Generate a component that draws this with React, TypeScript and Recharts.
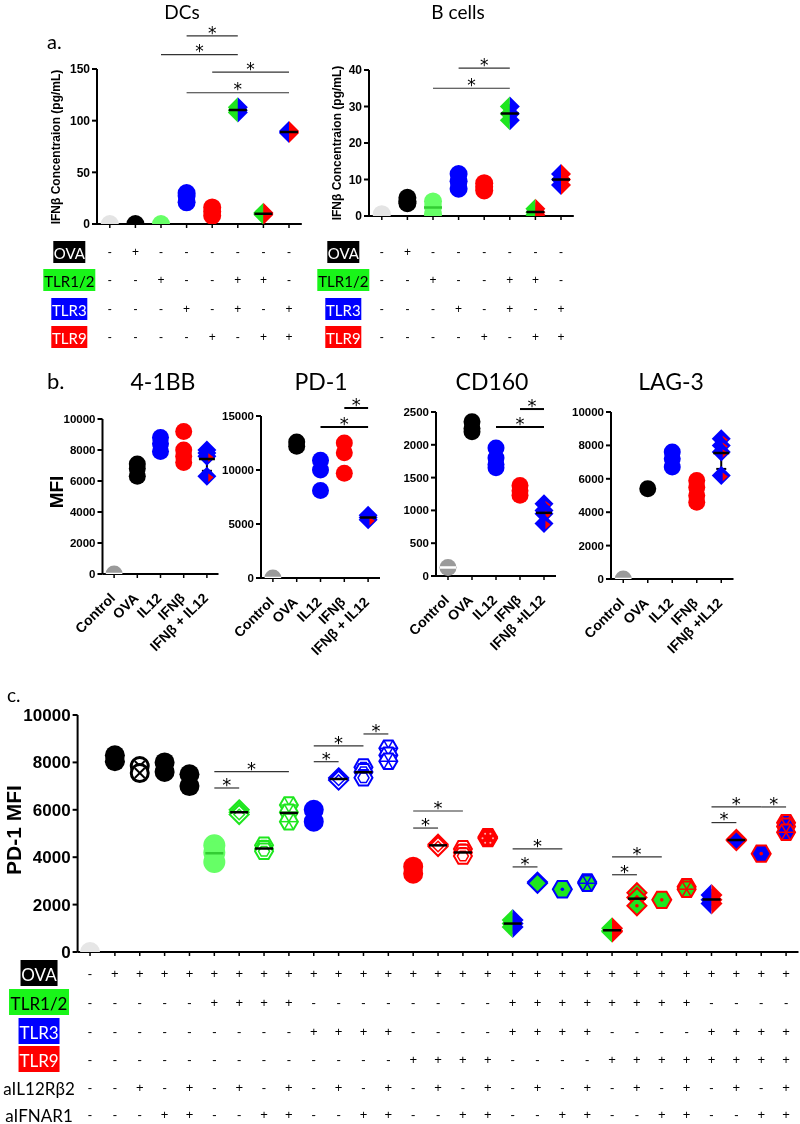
import React from "react";
import { ScatterChart, Scatter, XAxis, YAxis, ReferenceLine, ReferenceDot, ErrorBar } from "recharts";

const ARIAL = "'Liberation Sans', Arial, sans-serif";
const CALIBRI = "Lato, 'Open Sans', sans-serif";
const STAR = "'DejaVu Sans', sans-serif";

const BLACK = "#000000";
const WHITE = "#ffffff";
const PALE = "#e4e4e4";
const MID_GRAY = "#9a9a9a";
const LIGHT_GREEN = "#66ff66";
const GREEN = "#1ee61e";
const BOX_GREEN = "#19f519";
const BLUE = "#0000ff";
const RED = "#ff0000";

// ---------- panel a ----------
const dcValues = [[0], [0], [0], [30, 27, 21], [16, 12, 8], [113, 110, 108], [11, 10, 9], [90, 89, 88]];
const dcSig = [[4, 6, 182], [3, 6, 164], [5, 8, 147], [4, 8, 127]];
const dcTicks = [0, 50, 100, 150];

const bcValues = [[0.5], [5, 4, 3.5], [4, 2.5, 0.5], [11.5, 9.5, 7.5], [9, 8, 7], [30, 28, 26.2], [2, 1, 0.3], [11.5, 10, 8.5]];
const bcSig = [[4, 6, 40.5], [3, 6, 35]];
const bcTicks = [0, 10, 20, 30, 40];

const aOva = ["-", "+", "-", "-", "-", "-", "-", "-"];
const aTlr12 = ["-", "-", "+", "-", "-", "+", "+", "-"];
const aTlr3 = ["-", "-", "-", "+", "-", "+", "-", "+"];
const aTlr9 = ["-", "-", "-", "-", "+", "-", "+", "+"];

// ---------- panel b ----------
const bCats = ["Control", "OVA", "IL12", "IFNβ", "IFNβ + IL12"];
const bCats2 = ["Control", "OVA", "IL12", "IFNβ", "IFNβ +IL12"];
const bbValues = [[0], [7100, 6800, 6300], [8800, 8400, 7900], [9200, 8000, 7600, 7200], [8000, 7800, 7600, 6300]];
const pdValues = [[0], [12600, 12200], [10900, 10000, 8100], [12500, 11600, 9700], [5800, 5600, 5400]];
const pdSig = [[3, 5, 13980], [4, 5, 15740]];
const cdValues = [[130], [2350, 2250, 2200], [1950, 1800, 1700, 1650], [1380, 1300, 1230], [1100, 1000, 950, 800]];
const cdSig = [[3, 5, 2270], [4, 5, 2545]];
const lagValues = [[0], [5400], [7600, 7200, 6700], [5900, 5500, 5000, 4600], [8400, 8000, 7600, 6200]];
const tenK = [0, 2000, 4000, 6000, 8000, 10000];
const pdTicks = [0, 5000, 10000, 15000];
const cdTicks = [0, 500, 1000, 1500, 2000, 2500];

// ---------- panel c ----------
const cValues = [
  [0], [8300, 8050], [7850, 7550], [8000, 7600], [7500, 7000],
  [4500, 4200, 3800], [6000, 5900, 5800], [4500, 4350, 4250], [6200, 5900, 5500],
  [6000, 5500], [7350, 7300, 7250], [7800, 7600, 7350], [8600, 8300, 8050],
  [3600, 3300], [4550, 4500, 4450], [4350, 4200, 4050], [4850, 4800],
  [1350, 1200, 1050], [2950, 2900], [2650], [2950, 2900],
  [1000, 900, 850], [2500, 2300, 1950], [2200], [2750, 2650],
  [2400, 2200, 2050], [4750, 4700], [4150], [5450, 5300, 5050],
];
const cSig = [
  [6, 7, 6920], [6, 9, 7610], [10, 11, 8030], [10, 12, 8700], [12, 13, 9200],
  [14, 15, 5230], [14, 16, 5950], [18, 19, 3590], [18, 20, 4350],
  [22, 23, 3260], [22, 24, 4010], [26, 27, 5460], [26, 28, 6120], [28, 29, 6120],
];
const cOva = "-++++++++++++++++++++++++++++".split("");
const cTlr12 = "-----++++--------++++++++----".split("");
const cTlr3 = "---------++++----++++----++++".split("");
const cTlr9 = "-------------++++----++++++++".split("");
const cIl12 = "--+-+-+-+-+-+-+-+-+-+-+-+-+-+".split("");
const cIfnar = "---++--++--++--++--++--++--++".split("");

// ---------- markers ----------
type Mk = { s: "c" | "d" | "h"; fill: string; stroke?: string; half?: string; inner?: string; ic?: string; r: number; sw?: number };

const circ = (fill: string, r: number): Mk => ({ s: "c", fill, r });
const split = (a: string, b: string, r: number): Mk => ({ s: "d", fill: a, half: b, r });

function diamondPts(cx: number, cy: number, h: number) {
  return `${cx},${cy - h} ${cx + h},${cy} ${cx},${cy + h} ${cx - h},${cy}`;
}
function hexVerts(cx: number, cy: number, r: number) {
  const out: number[][] = [];
  for (let k = 0; k < 6; k++) {
    const t = (Math.PI / 3) * k;
    out.push([cx + r * Math.cos(t), cy + r * Math.sin(t)]);
  }
  return out;
}
const hexPts = (cx: number, cy: number, r: number) => hexVerts(cx, cy, r).map((p) => p.join(",")).join(" ");

function Marker({ cx, cy, m }: { cx: number; cy: number; m: Mk }) {
  if (cx == null || cy == null) return null;
  const r = m.r;
  const sw = m.stroke ? m.sw ?? 2 : 0;
  const ri = r - sw / 2;
  const kids: React.ReactElement[] = [];
  if (m.s === "c") {
    kids.push(<circle key="b" cx={cx} cy={cy} r={ri} fill={m.fill} stroke={m.stroke} strokeWidth={sw} />);
  } else if (m.s === "d") {
    if (m.half) {
      kids.push(<polygon key="l" points={`${cx},${cy - r} ${cx},${cy + r} ${cx - r},${cy}`} fill={m.fill} />);
      kids.push(<polygon key="r" points={`${cx},${cy - r} ${cx + r},${cy} ${cx},${cy + r}`} fill={m.half} />);
    } else {
      kids.push(<polygon key="b" points={diamondPts(cx, cy, ri)} fill={m.fill} stroke={m.stroke} strokeWidth={sw} />);
    }
  } else {
    kids.push(<polygon key="b" points={hexPts(cx, cy, ri)} fill={m.fill} stroke={m.stroke} strokeWidth={sw} />);
  }
  const ic = m.ic || BLACK;
  if (m.inner === "x") {
    const d = r * 0.5;
    kids.push(<line key="x1" x1={cx - d} y1={cy - d} x2={cx + d} y2={cy + d} stroke={ic} strokeWidth={2} />);
    kids.push(<line key="x2" x1={cx - d} y1={cy + d} x2={cx + d} y2={cy - d} stroke={ic} strokeWidth={2} />);
  } else if (m.inner === "ring") {
    if (m.s === "d") kids.push(<polygon key="i" points={diamondPts(cx, cy, r * 0.5)} fill="none" stroke={ic} strokeWidth={1.5} />);
    else kids.push(<polygon key="i" points={hexPts(cx, cy, r * 0.55)} fill="none" stroke={ic} strokeWidth={1.5} />);
  } else if (m.inner === "spoke") {
    const v = hexVerts(cx, cy, ri);
    for (let k = 0; k < 3; k++) {
      kids.push(<line key={"sp" + k} x1={v[k][0]} y1={v[k][1]} x2={v[k + 3][0]} y2={v[k + 3][1]} stroke={ic} strokeWidth={1.5} />);
    }
  } else if (m.inner === "dot") {
    kids.push(<circle key="d" cx={cx} cy={cy} r={1.8} fill={ic} />);
  } else if (m.inner === "dots") {
    hexVerts(cx, cy, r * 0.5).forEach((p, k) => kids.push(<circle key={"dt" + k} cx={p[0]} cy={p[1]} r={1} fill={ic} />));
  } else if (m.inner === "tri") {
    kids.push(
      <polygon key="t" points={`${cx + 0.15 * r},${cy - 0.3 * r} ${cx + 0.7 * r},${cy + 0.1 * r} ${cx + 0.15 * r},${cy + 0.6 * r}`} fill={ic} />
    );
  }
  return <g>{kids}</g>;
}

const dcMarks: Mk[] = [circ(PALE, 9), circ(BLACK, 9), circ(LIGHT_GREEN, 9), circ(BLUE, 9), circ(RED, 9), split(GREEN, BLUE, 10), split(GREEN, RED, 10), split(BLUE, RED, 10)];
const dcMeans = [null, null, null, null, null, BLACK, BLACK, BLACK];
const dcErrs = [false, false, false, false, false, true, true, false];
const bcMeans = [null, null, "#33cc33", null, null, BLACK, BLACK, BLACK];
const bcErrs = [false, false, false, false, false, true, true, true];

const bMarks: Mk[] = [circ(MID_GRAY, 8.5), circ(BLACK, 8.5), circ(BLUE, 8.5), circ(RED, 8.5), { s: "d", fill: BLUE, inner: "tri", ic: RED, r: 9.5 }];
const bMeans = [WHITE, null, null, null, BLACK];
const bErrs = [false, false, false, false, true];

const ring = (s: "d" | "h", col: string): Mk => ({ s, fill: WHITE, stroke: col, inner: "ring", ic: col, r: s === "d" ? 10.5 : 10 });
const spokes = (fill: string, col: string): Mk => ({ s: "h", fill, stroke: col, inner: "spoke", ic: col, r: 10 });
const cMarks: Mk[] = [
  circ("#e6e6e6", 10), circ(BLACK, 10), { s: "c", fill: WHITE, stroke: BLACK, sw: 3, inner: "x", ic: BLACK, r: 10 }, circ(BLACK, 10), circ(BLACK, 10),
  circ(LIGHT_GREEN, 11), ring("d", GREEN), ring("h", GREEN), spokes(WHITE, GREEN),
  circ(BLUE, 10), ring("d", BLUE), ring("h", BLUE), spokes(WHITE, BLUE),
  circ(RED, 10), ring("d", RED), ring("h", RED), { s: "h", fill: RED, inner: "dots", ic: "#ffb0b0", r: 10.5 },
  split(GREEN, BLUE, 11), { s: "d", fill: GREEN, stroke: BLUE, r: 10.5 }, { s: "h", fill: GREEN, stroke: BLUE, inner: "dot", ic: BLUE, r: 10.5 }, spokes(GREEN, BLUE),
  split(GREEN, RED, 11), { s: "d", fill: GREEN, stroke: RED, inner: "dot", ic: RED, r: 10.5 }, { s: "h", fill: GREEN, stroke: RED, inner: "dot", ic: RED, r: 10.5 }, spokes(GREEN, RED),
  split(BLUE, RED, 11), { s: "d", fill: BLUE, stroke: RED, r: 10.5 }, { s: "h", fill: BLUE, stroke: RED, inner: "dot", ic: RED, r: 10.5 }, spokes(BLUE, RED),
];
const cMeans = [null, null, null, null, null, "#33cc33", BLACK, BLACK, BLACK, null, BLACK, BLACK, null, null, BLACK, BLACK, null, BLACK, null, null, null, BLACK, BLACK, null, null, BLACK, BLACK, null, null];
const cErrs = [false, false, false, false, false, false, true, true, true, false, true, true, false, false, true, true, false, false, false, false, false, true, true, false, false, false, true, false, false];

// ---------- helpers ----------
const mean = (v: number[]) => v.reduce((a, b) => a + b, 0) / v.length;
const sd = (v: number[]) => {
  if (v.length < 2) return 0;
  const m = mean(v);
  return Math.sqrt(v.reduce((a, b) => a + (b - m) * (b - m), 0) / (v.length - 1));
};

type RowLbl = { text: string; bg?: string; color: string; w?: number };
const aLabels: RowLbl[] = [
  { text: "OVA", bg: BLACK, color: WHITE, w: 32 },
  { text: "TLR1/2", bg: BOX_GREEN, color: BLACK, w: 52 },
  { text: "TLR3", bg: BLUE, color: WHITE, w: 36 },
  { text: "TLR9", bg: RED, color: WHITE, w: 36 },
];
const cLabels: RowLbl[] = [
  { text: "OVA", bg: BLACK, color: WHITE, w: 37 },
  { text: "TLR1/2", bg: BOX_GREEN, color: BLACK, w: 60 },
  { text: "TLR3", bg: BLUE, color: WHITE, w: 41 },
  { text: "TLR9", bg: RED, color: WHITE, w: 41 },
  { text: "aIL12Rβ2", color: BLACK },
  { text: "aIFNAR1", color: BLACK },
];

function tableTick(rows: string[][], labels: RowLbl[], offs: number[], labelDx: number, fs: number, lfs: number, boxH: number) {
  return (p: any) => {
    const i = Math.round(p.payload.value) - 1;
    const base = p.y - 4;
    return (
      <g>
        {rows.map((r, k) => (
          <text key={k} x={p.x} y={base + offs[k]} textAnchor="middle" dominantBaseline="central" fontSize={fs} fontFamily={ARIAL} fill={BLACK}>
            {r[i]}
          </text>
        ))}
        {i === 0 &&
          labels.map((l, k) => (
            <g key={"l" + k}>
              {l.bg && <rect x={p.x - labelDx - (l.w || 0) / 2} y={base + offs[k] - boxH / 2} width={l.w} height={boxH} fill={l.bg} />}
              <text x={p.x - labelDx} y={base + offs[k] + 1} textAnchor="middle" dominantBaseline="central" fontSize={lfs} fontFamily={CALIBRI} fill={l.color}>
                {l.text}
              </text>
            </g>
          ))}
      </g>
    );
  };
}

const rotTick = (labels: string[]) => (p: any) => (
  <text transform={`translate(${p.x + 2},${p.y + 21}) rotate(-45)`} textAnchor="end" fontSize={14} fontWeight={700} fontFamily={ARIAL} fill={BLACK}>
    {labels[Math.round(p.payload.value) - 1]}
  </text>
);

type PanelCfg = {
  box: number[];
  plot: number[];
  yw: number;
  xh: number;
  yMax: number;
  yTicks: number[];
  yFs: number;
  values: number[][];
  marks: Mk[];
  means: (string | null)[];
  errs: boolean[];
  sigs: number[][];
  sigW: number;
  sigColor: string;
  starFs: number;
  meanW: number;
  tick: (p: any) => React.ReactElement;
};

function Panel({ c }: { c: PanelCfg }) {
  const [L, T, W, H] = c.box;
  const [x0, y0, x1, y1] = c.plot;
  const n = c.values.length;
  const margin = { top: y0 - T, left: x0 - L - c.yw, right: L + W - x1, bottom: T + H - y1 - c.xh };
  const ticks = c.values.map((_, i) => i + 1);
  return (
    <div style={{ position: "absolute", left: L, top: T }}>
      <ScatterChart width={W} height={H} margin={margin} style={{ overflow: "visible" }}>
        <XAxis
          type="number"
          dataKey="x"
          domain={[0.5, n + 0.5]}
          ticks={ticks}
          interval={0}
          allowDataOverflow
          height={c.xh}
          tickSize={4}
          tickMargin={0}
          axisLine={{ stroke: BLACK, strokeWidth: 2 }}
          tickLine={{ stroke: BLACK, strokeWidth: 1.5 }}
          tick={c.tick}
        />
        <YAxis
          type="number"
          dataKey="y"
          domain={[0, c.yMax]}
          ticks={c.yTicks}
          interval={0}
          allowDataOverflow
          width={c.yw}
          tickSize={5}
          tickMargin={2}
          axisLine={{ stroke: BLACK, strokeWidth: 2 }}
          tickLine={{ stroke: BLACK, strokeWidth: 2 }}
          tick={{ fill: BLACK, fontSize: c.yFs, fontWeight: 700, fontFamily: ARIAL }}
        />
        {c.values.map((vals, i) => (
          <Scatter
            key={"s" + i}
            data={vals.map((v) => ({ x: i + 1, y: v }))}
            isAnimationActive={false}
            shape={(p: any) => <Marker cx={p.cx} cy={p.cy} m={c.marks[i]} />}
          />
        ))}
        {c.values.map((vals, i) =>
          c.means[i] ? (
            <Scatter
              key={"m" + i}
              data={[{ x: i + 1, y: mean(vals), e: sd(vals) }]}
              isAnimationActive={false}
              shape={(p: any) => (
                <line x1={p.cx - c.meanW} x2={p.cx + c.meanW} y1={p.cy} y2={p.cy} stroke={c.means[i] as string} strokeWidth={2.5} />
              )}
            >
              {c.errs[i] && <ErrorBar dataKey="e" direction="y" width={5} stroke={BLACK} strokeWidth={2} />}
            </Scatter>
          ) : null
        )}
        {c.sigs.map(([a, b, y], k) => (
          <ReferenceLine key={"g" + k} segment={[{ x: a, y }, { x: b, y }]} stroke={c.sigColor} strokeWidth={c.sigW} ifOverflow="visible" />
        ))}
        {c.sigs.map(([a, b, y], k) => (
          <ReferenceDot
            key={"st" + k}
            x={(a + b) / 2}
            y={y}
            r={0}
            ifOverflow="visible"
            shape={(p: any) => (
              <text x={p.cx} y={p.cy + c.starFs * 0.16} textAnchor="middle" fontSize={c.starFs} fontFamily={STAR} fill={BLACK}>
                *
              </text>
            )}
          />
        ))}
      </ScatterChart>
    </div>
  );
}

const panels: PanelCfg[] = [
  {
    box: [0, 0, 320, 360], plot: [97, 69, 301.8, 224], yw: 40, xh: 130, yMax: 150, yTicks: dcTicks, yFs: 12,
    values: dcValues, marks: dcMarks, means: dcMeans, errs: dcErrs, sigs: dcSig, sigW: 1.2, sigColor: "#333", starFs: 17, meanW: 9,
    tick: tableTick([aOva, aTlr12, aTlr3, aTlr9], aLabels, [28, 56, 85, 113], 40.5, 12, 15, 22),
  },
  {
    box: [290, 0, 310, 360], plot: [369, 70, 573.8, 216], yw: 40, xh: 130, yMax: 40, yTicks: bcTicks, yFs: 12,
    values: bcValues, marks: dcMarks, means: bcMeans, errs: bcErrs, sigs: bcSig, sigW: 1.2, sigColor: "#333", starFs: 17, meanW: 9,
    tick: tableTick([aOva, aTlr12, aTlr3, aTlr9], aLabels, [36, 64, 93, 121], 38.5, 12, 15, 22),
  },
  {
    box: [0, 370, 230, 310], plot: [102.5, 419, 218.5, 574], yw: 50, xh: 80, yMax: 10000, yTicks: tenK, yFs: 11.5,
    values: bbValues, marks: bMarks, means: bMeans, errs: bErrs, sigs: [], sigW: 2, sigColor: BLACK, starFs: 18, meanW: 8,
    tick: rotTick(bCats),
  },
  {
    box: [200, 370, 195, 310], plot: [261, 416, 380, 578], yw: 50, xh: 80, yMax: 15000, yTicks: pdTicks, yFs: 11.5,
    values: pdValues, marks: bMarks, means: bMeans, errs: bErrs, sigs: pdSig, sigW: 2, sigColor: BLACK, starFs: 18, meanW: 8,
    tick: rotTick(bCats),
  },
  {
    box: [380, 370, 190, 310], plot: [436, 412, 556, 576], yw: 45, xh: 80, yMax: 2500, yTicks: cdTicks, yFs: 11.5,
    values: cdValues, marks: bMarks, means: bMeans, errs: bErrs, sigs: cdSig, sigW: 2, sigColor: BLACK, starFs: 18, meanW: 8,
    tick: rotTick(bCats2),
  },
  {
    box: [550, 370, 200, 310], plot: [611, 412, 733.5, 579], yw: 50, xh: 80, yMax: 10000, yTicks: tenK, yFs: 11.5,
    values: lagValues, marks: bMarks, means: bMeans, errs: bErrs, sigs: [], sigW: 2, sigColor: BLACK, starFs: 18, meanW: 8,
    tick: rotTick(bCats2),
  },
  {
    box: [0, 680, 800, 444], plot: [77.6, 715, 798.5, 952], yw: 62, xh: 172, yMax: 10000, yTicks: tenK, yFs: 17,
    values: cValues, marks: cMarks, means: cMeans, errs: cErrs, sigs: cSig, sigW: 1.2, sigColor: "#333", starFs: 18, meanW: 9,
    tick: tableTick([cOva, cTlr12, cTlr3, cTlr9, cIl12, cIfnar], cLabels, [21, 50, 79, 107, 135, 162], 51, 13, 17, 26),
  },
];

function Labels() {
  const t = (x: number, y: number, s: string, fs: number, extra: any = {}) => (
    <text x={x} y={y} fontSize={fs} fontFamily={CALIBRI} fill={BLACK} {...extra}>
      {s}
    </text>
  );
  const v = (x: number, y: number, s: string, fs: number) => (
    <text x={0} y={0} transform={`translate(${x},${y}) rotate(-90)`} textAnchor="middle" dominantBaseline="central" fontSize={fs} fontWeight={700} fontFamily={ARIAL} fill={BLACK}>
      {s}
    </text>
  );
  return (
    <svg width={800} height={1124} style={{ position: "absolute", left: 0, top: 0 }}>
      {t(182, 19, "DCs", 19, { textAnchor: "middle" })}
      {t(458, 19, "B cells", 19, { textAnchor: "middle" })}
      {t(47, 49, "a.", 20)}
      {t(47, 389, "b.", 22)}
      {t(163, 390, "4-1BB", 23, { textAnchor: "middle" })}
      {t(321, 390, "PD-1", 23, { textAnchor: "middle" })}
      {t(492, 390, "CD160", 23, { textAnchor: "middle" })}
      {t(671, 390, "LAG-3", 23, { textAnchor: "middle" })}
      {t(7, 702, "c.", 19)}
      {v(56, 147, "IFNβ Concentraion (pg/mL)", 12)}
      {v(337, 143, "IFNβ Concentraion (pg/mL)", 12)}
      {v(56, 492, "MFI", 19)}
      {v(13, 830, "PD-1 MFI", 21)}
    </svg>
  );
}

export default function App() {
  return (
    <div
      style={{ position: "absolute", left: 0, top: 0, width: 800, height: 1124, background: WHITE, overflow: "hidden", willChange: "transform" }}
    >
      <Labels />
      {panels.map((c, i) => (
        <Panel key={i} c={c} />
      ))}
    </div>
  );
}
